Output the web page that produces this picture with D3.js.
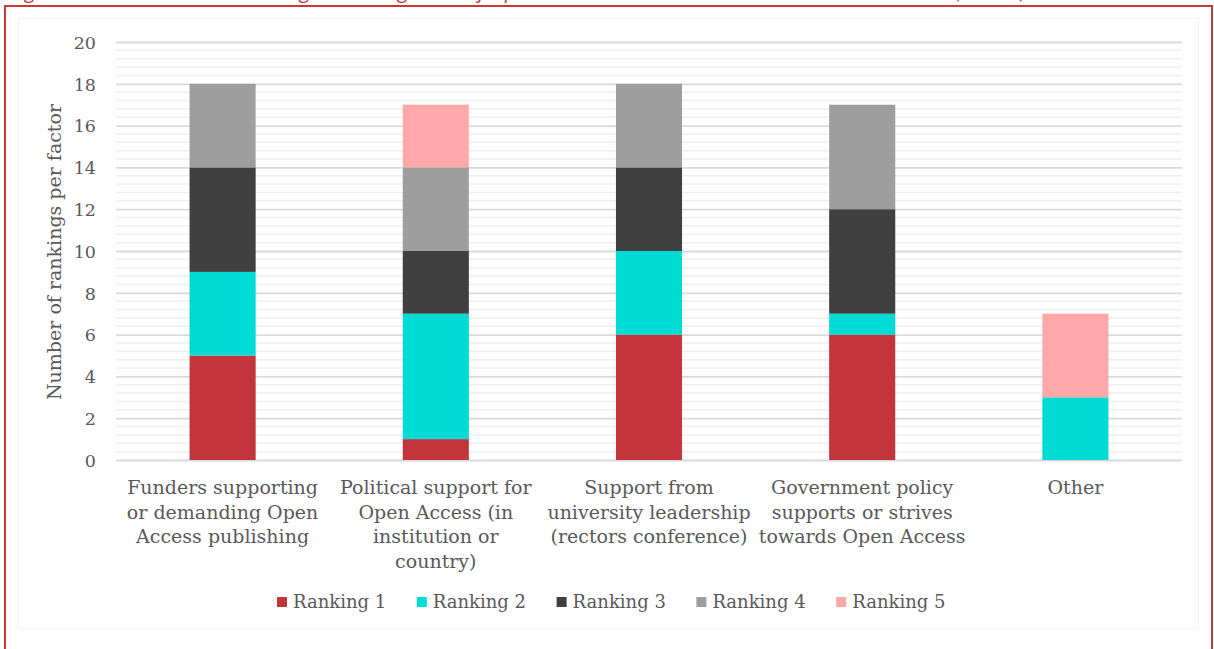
<!DOCTYPE html>
<html>
<head>
<meta charset="utf-8">
<script src="https://cdn.jsdelivr.net/npm/d3@7"></script>
<style>
  html, body { margin: 0; padding: 0; background: #ffffff; }
  svg { display: block; }
</style>
</head>
<body>
<svg id="chart" width="1214" height="649"></svg>
<script>
// Factors and how often each was placed at each rank
const categories = [
  ["Funders supporting", "or demanding Open", "Access publishing"],
  ["Political support for", "Open Access (in", "institution or", "country)"],
  ["Support from", "university leadership", "(rectors conference)"],
  ["Government policy", "supports or strives", "towards Open Access"],
  ["Other"]
];
const seriesNames = ["Ranking 1", "Ranking 2", "Ranking 3", "Ranking 4", "Ranking 5"];
const ranking1 = [5, 1, 6, 6, 0];
const ranking2 = [4, 6, 4, 1, 3];
const ranking3 = [5, 3, 4, 5, 0];
const ranking4 = [4, 4, 4, 5, 0];
const ranking5 = [0, 3, 0, 0, 4];
const yTicks = [0, 2, 4, 6, 8, 10, 12, 14, 16, 18, 20];
const colors = ["#c4343c", "#00dbd5", "#404040", "#9e9e9e", "#ffa8a9"];

const svg = d3.select("#chart");
const serif = "'DejaVu Serif', Georgia, serif";
const textColor = "#595959";

// figure caption line sitting above the frame
svg.append("text")
  .attr("x", 10).attr("y", -2)
  .attr("font-family", "'Open Sans', sans-serif")
  .attr("font-style", "italic")
  .attr("font-size", 20.5)
  .attr("fill", "#c8383b")
  .text("Figure 12: Factors that are strongest in the growth of Open Access in the institutions and in the countries (N = 18)");

// red frame
svg.append("rect")
  .attr("x", 5).attr("y", 6)
  .attr("width", 1207).attr("height", 700)
  .attr("fill", "#ffffff")
  .attr("stroke", "#c8383b").attr("stroke-width", 2);

// faint chart-area outline
svg.append("rect")
  .attr("x", 18.5).attr("y", 18.5)
  .attr("width", 1180).attr("height", 610)
  .attr("fill", "none")
  .attr("stroke", "#f4f4f4").attr("stroke-width", 1);

const plot = { left: 116, right: 1182, top: 42, bottom: 460 };

const x = d3.scaleBand()
  .domain(d3.range(categories.length))
  .range([plot.left, plot.right])
  .paddingInner(0.69).paddingOuter(0.345);

const y = d3.scaleLinear().domain([0, 20]).range([plot.bottom, plot.top]);

// minor gridlines every 0.4
const minor = d3.range(0, 20.001, 0.4).filter(v => Math.abs(v / 2 - Math.round(v / 2)) > 1e-6);
svg.append("g").selectAll("line").data(minor).join("line")
  .attr("x1", plot.left).attr("x2", plot.right)
  .attr("y1", d => y(d)).attr("y2", d => y(d))
  .attr("stroke", "#efefef").attr("stroke-width", 1.5);

// major gridlines and value axis
const yAxis = d3.axisLeft(y).tickValues(yTicks).tickSize(-(plot.right - plot.left)).tickPadding(20);
const gy = svg.append("g").attr("transform", `translate(${plot.left},0)`).call(yAxis);
gy.select(".domain").remove();
gy.selectAll(".tick line").attr("stroke", "#d9d9d9").attr("stroke-width", 1.8);
gy.selectAll(".tick text")
  .attr("font-family", serif).attr("font-size", 17.5)
  .attr("fill", textColor).attr("dy", "0.36em");

// stacked bars
const rows = categories.map((c, i) => ({
  idx: i,
  "Ranking 1": ranking1[i], "Ranking 2": ranking2[i], "Ranking 3": ranking3[i],
  "Ranking 4": ranking4[i], "Ranking 5": ranking5[i]
}));
const stacked = d3.stack().keys(seriesNames)(rows);

svg.append("g").selectAll("g").data(stacked).join("g")
  .attr("fill", (d, i) => colors[i])
  .selectAll("rect").data(d => d.filter(p => p[1] > p[0])).join("rect")
  .attr("x", d => x(d.data.idx))
  .attr("width", x.bandwidth())
  .attr("y", d => y(d[1]))
  .attr("height", d => y(d[0]) - y(d[1]));

// category labels
const gx = svg.append("g");
categories.forEach((lines, i) => {
  const t = gx.append("text")
    .attr("text-anchor", "middle")
    .attr("font-family", serif).attr("font-size", 19)
    .attr("fill", textColor);
  lines.forEach((ln, j) => {
    t.append("tspan")
      .attr("x", x(i) + x.bandwidth() / 2)
      .attr("y", 494 + j * 24.5)
      .text(ln);
  });
});

// y axis title
svg.append("text")
  .attr("transform", `translate(61, ${(plot.top + plot.bottom) / 2 + 1}) rotate(-90)`)
  .attr("text-anchor", "middle")
  .attr("font-family", serif).attr("font-size", 19)
  .attr("fill", textColor)
  .text("Number of rankings per factor");

// legend
const legend = svg.append("g");
seriesNames.forEach((name, i) => {
  const lx = 277 + i * 139.8;
  legend.append("rect")
    .attr("x", lx).attr("y", 597)
    .attr("width", 10).attr("height", 10)
    .attr("fill", colors[i]);
  legend.append("text")
    .attr("x", lx + 16).attr("y", 608)
    .attr("font-family", serif).attr("font-size", 18)
    .attr("fill", textColor)
    .text(name);
});
</script>
</body>
</html>
